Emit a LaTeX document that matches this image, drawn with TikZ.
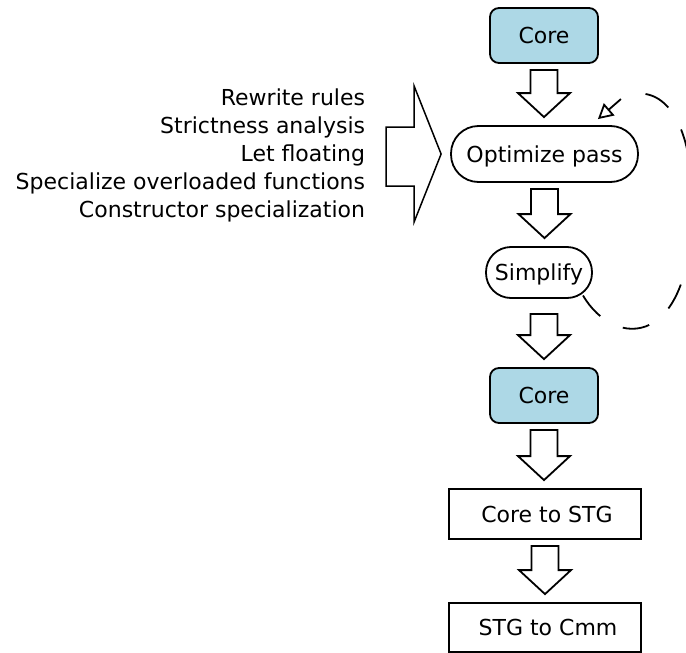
\documentclass[tikz,border=0pt]{standalone}
\usepackage{fontspec}
\setmainfont{DejaVu Sans}
\usetikzlibrary{calc,arrows.meta}
\definecolor{coreblue}{HTML}{ADD8E6}

% hollow block arrow pointing down from #2 to #3, centred on the x of #4;
% optional #1 is the gap below the source node
\newcommand\flowarrow[4][6]{%
  \draw[blockarrow]
    ($(#4.center |- #2.south)+(-13.5,#1)$) --
    ($(#4.center |- #2.south)+(13.5,#1)$) --
    ($(#4.center |- #3.north)+(13.5,-32)$) --
    ($(#4.center |- #3.north)+(26,-32)$) --
    ($(#4.center |- #3.north)+(0,-8)$) --
    ($(#4.center |- #3.north)+(-26,-32)$) --
    ($(#4.center |- #3.north)+(-13.5,-32)$) -- cycle;}

\begin{document}
\begin{tikzpicture}[x=1pt,y=-1pt,line width=1.8pt,
  font=\fontsize{22}{28}\selectfont,
  stage/.style={draw,inner sep=0pt,align=center,text height=16pt,text depth=0pt},
  corebox/.style={stage,fill=coreblue,rounded corners=9pt,minimum width=108pt,minimum height=55pt},
  pill/.style={stage,rounded corners=#1},
  plainbox/.style={stage,minimum width=192pt,minimum height=50pt},
  blockarrow/.style={draw,fill=white,line join=miter},
  loopback/.style={line width=1.8pt,dash pattern=on 27pt off 25.6pt},
  loophead/.style={line width=1.8pt,-{Triangle[open,length=15pt,width=16pt]}}]
\useasboundingbox (0,0) rectangle (686,653);

% pipeline stages
\node[corebox] (core1) at (544,35.5) {Core};
\node[pill=27.5pt,minimum width=187pt,minimum height=56pt] (opt) at (544.5,154) {Optimize pass};
\node[pill=25pt,minimum width=106pt,minimum height=51pt] (simp) at (539,272.5) {Simplify};
\node[corebox] (core2) at (544,395.5) {Core};
\node[plainbox] (tostg) at (545,514) {\hspace*{4pt}Core to STG};
\node[plainbox,minimum height=49pt] (tocmm) at (545,627.5) {\hspace*{6pt}STG to Cmm};

% list of optimisations fed into the optimize pass
\node[anchor=east,align=right,inner sep=0pt] (passes) at (366,155)
  {Rewrite rules\\Strictness analysis\\Let floating\\Specialize overloaded functions\\Constructor specialization};

% downward flow
\flowarrow{core1}{opt}{core1}
\flowarrow{opt}{simp}{opt}
\flowarrow[15]{simp}{core2}{core2}
\flowarrow{core2}{tostg}{core2}
\flowarrow{tostg}{tocmm}{tostg}

% big arrow from the list into the optimize pass
\draw[blockarrow,line width=1.5pt]
  ($(opt.west)+(-64,-27)$) -- ($(opt.west)+(-36,-27)$) --
  ($(opt.west)+(-36,-68)$) -- ($(opt.west)+(-9,0)$) --
  ($(opt.west)+(-36,68)$) -- ($(opt.west)+(-36,32)$) --
  ($(opt.west)+(-64,32)$) -- cycle;

% iteration loop from simplify back to the optimize pass; it bulges past
% the right edge, where its two dashed halves meet
\coordinate (loopstart) at ($(simp.center)+(44,23)$);
\coordinate (looptip) at ($(opt.north east)+(-41,-6)$);
\coordinate (loopend) at ($(looptip)+(23,-20)$);
\coordinate (loopfar) at (692,200);
\draw[loopback] (loopstart) .. controls (615,350) and (694,350) .. (loopfar);
\draw[loopback,dash phase=27pt] (loopend) .. controls (655,80) and (692,110) .. (loopfar);
\draw[loophead] (loopend) -- (looptip);
\end{tikzpicture}
\end{document}
